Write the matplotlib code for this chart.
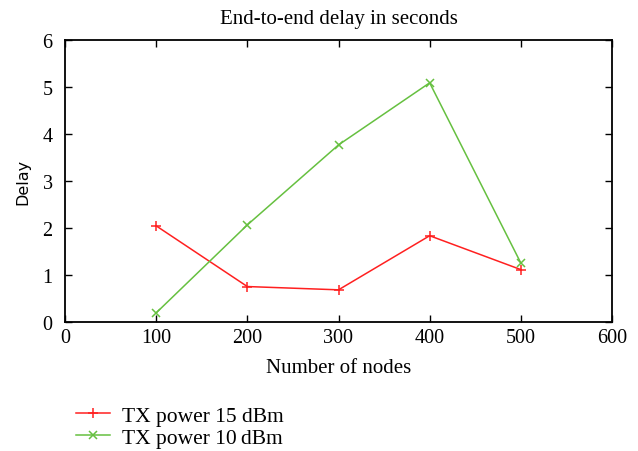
import matplotlib
matplotlib.use("Agg")
import matplotlib.pyplot as plt

nodes = [100, 200, 300, 400, 500]
delay_15dbm = [2.05, 0.76, 0.69, 1.84, 1.12]
delay_10dbm = [0.20, 2.07, 3.77, 5.09, 1.26]
xticks = [0, 100, 200, 300, 400, 500, 600]
yticks = [0, 1, 2, 3, 4, 5, 6]

serif = ['Liberation Serif', 'DejaVu Serif']
fig = plt.figure(figsize=(6.38, 4.52), dpi=100)
ax = fig.add_axes([65/638, 1-323.3/452, (612-65)/638, (323.3-41)/452])

l1, = ax.plot(nodes, delay_15dbm, color='#ff2020', lw=1.1, marker='+', ms=6.5, mew=1.1,
              label='TX power 15 dBm')
l2, = ax.plot(nodes, delay_10dbm, color='#66c040', lw=1.1, marker='x', ms=6, mew=1.1,
              label='TX power 10\u2009dBm')

ax.set_xlim(0, 600)
ax.set_ylim(0, 6)
ax.set_xticks(xticks)
ax.set_yticks(yticks)
ax.tick_params(direction='in', top=True, right=True, length=5, width=1, labelsize=14.5)
ax.tick_params(axis='y', pad=9)
ax.tick_params(axis='x', pad=4)
for lab in ax.get_xticklabels() + ax.get_yticklabels():
    lab.set_family(serif)
for s in ax.spines.values():
    s.set_linewidth(1.3)

ax.set_title('End-to-end delay in seconds', family=serif, fontsize=15, pad=12)
ax.set_xlabel('Number of nodes', family=serif, fontsize=15, labelpad=8)
ax.set_ylabel('Delay', family='DejaVu Sans', fontsize=11.5, labelpad=9)

fig.legend(handles=[l1, l2], loc='upper left', bbox_to_anchor=(67/638, 1-398/452),
           frameon=False, prop={'family': serif, 'size': 15.5}, handlelength=1.6,
           handletextpad=0.55, labelspacing=0.1, borderaxespad=0)

fig.savefig('out.png', dpi=100)
